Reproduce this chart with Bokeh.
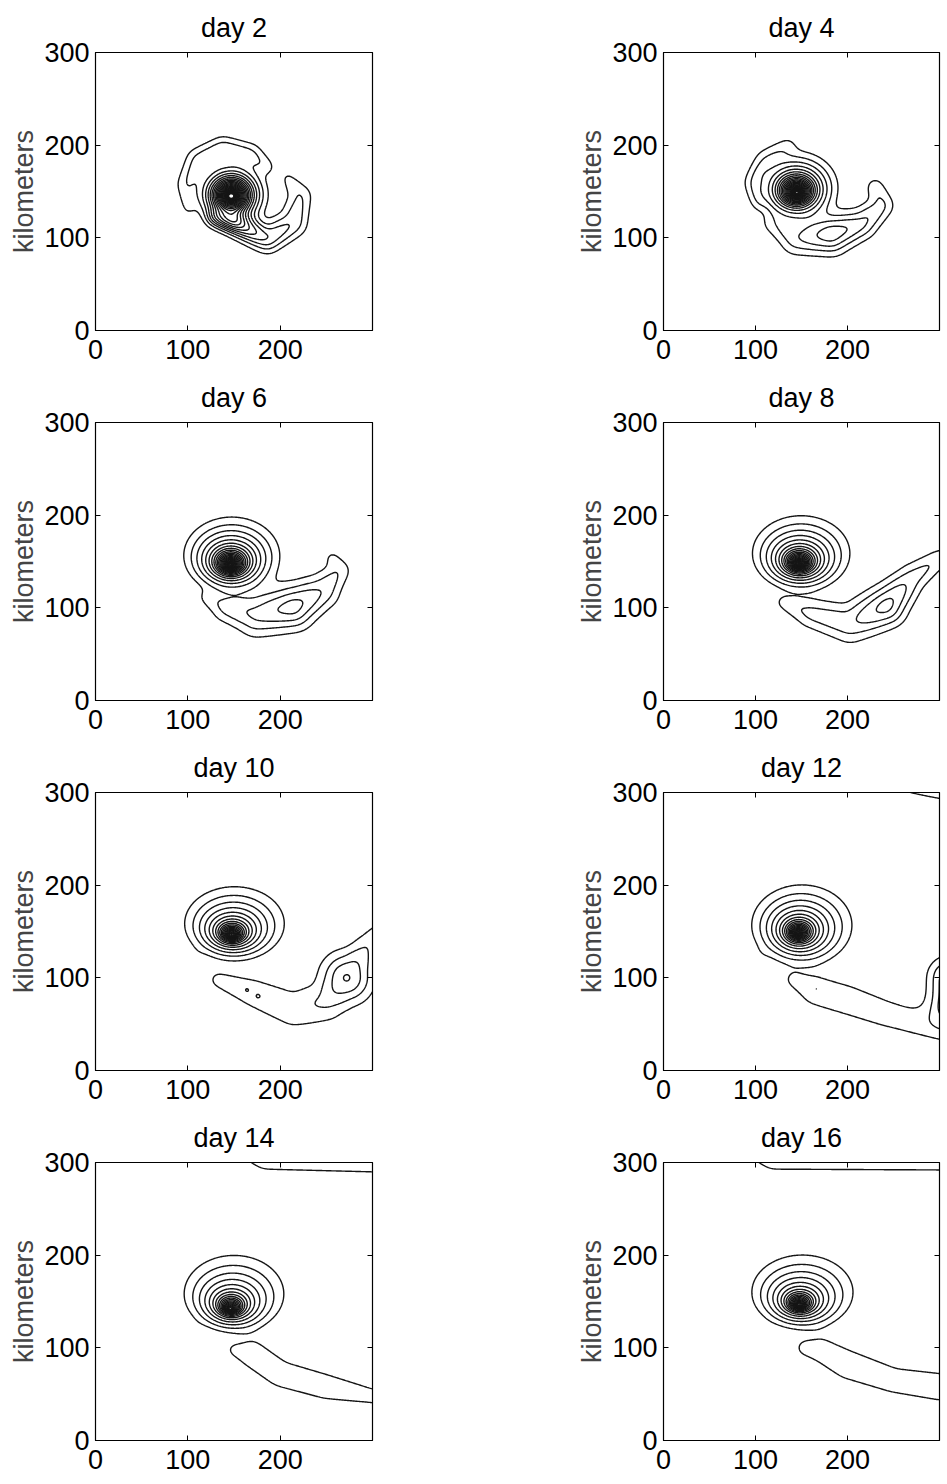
import numpy as np
from bokeh.plotting import figure
from bokeh.layouts import column, row
from bokeh.models import LinearAxis, FixedTicker, Range1d, CustomJSTickFormatter
from bokeh.embed import file_html
from bokeh.resources import INLINE

# ---------------------------------------------------------------- data
DAYS = [2, 4, 6, 8, 10, 12, 14, 16]

# vortex centre (km)
VORTEX_X = [147, 145, 146, 147, 147, 146, 146, 147]
VORTEX_Y = [145, 149, 146, 147, 146, 148, 142, 146]
# half-width of the outermost closed ring of the vortex (km)
RING1_RADIUS = [40, 46, 52, 53, 54, 54.5, 54, 55]
# contour levels per e-fold of radius inside the vortex
RING_DENSITY = [8.0, 7.0, 6.5, 6.0, 5.5, 5.5, 5.2, 5.2]
# extra levels packed into the core, and the radius they occupy (km)
CORE_BOOST = [6, 5, 4, 4, 3, 3, 3, 3]
CORE_BOOST_RADIUS = [16, 14, 12, 11, 10, 10, 10, 10]
# drift of the ring centres per km of radius, and ring aspect (y/x)
RING_SHIFT_X = [0.0, -0.03, 0.03, 0.05, 0.065, 0.08, 0.074, 0.073]
RING_SHIFT_Y = [0.05, 0.12, 0.2, 0.22, 0.23, 0.16, 0.30, 0.255]
RING_ASPECT = [0.92, 0.85, 0.80, 0.77, 0.74, 0.80, 0.77, 0.73]
# radius of the flat top of the vortex (km)
CORE_RADIUS = [2.0, 2.0, 2.2, 2.6, 2.6, 2.6, 2.4, 2.4]

# filaments shed by the vortex: vertices (x km, y km, amplitude, half-width km)
ARMS_DAY2 = [
    [(100, 130, 1.3, 7), (98, 158, 2.1, 10), (111, 184, 2.7, 12), (138, 196, 3.1, 12),
     (168, 190, 2.7, 11), (186, 177, 1.7, 8)],
    [(207, 166, 1.3, 8), (222, 145, 2.3, 12), (214, 116, 3.1, 14), (186, 99, 4.3, 13),
     (150, 117, 8.0, 10), (130, 122, 4.5, 8)],
]
ARMS_DAY4 = [
    [(118, 115, 1.7, 10), (145, 100, 3.0, 17), (182, 104, 5.0, 19), (215, 115, 3.6, 15),
     (238, 135, 2.5, 12), (230, 155, 1.9, 10)],
    [(103, 138, 1.4, 7), (97, 160, 1.7, 9), (110, 185, 1.7, 10), (135, 200, 1.4, 9)],
]
ARMS_DAY6 = [
    [(119, 111, 1.5, 8), (142, 100, 2.6, 15), (175, 93, 3.4, 22), (214, 101, 4.7, 22),
     (245, 118, 3.1, 18), (264, 140, 2.1, 12), (256, 154, 1.5, 9)],
]
ARMS_DAY8 = [
    [(129, 106, 1.6, 8), (160, 94, 2.5, 15), (203, 83, 2.8, 20), (242, 102, 4.7, 20),
     (270, 132, 2.7, 15), (298, 152, 2.0, 11), (320, 158, 1.7, 10)],
]
ARMS_DAY10 = [
    [(132, 98, 1.6, 10), (170, 84, 1.85, 17), (215, 66, 1.65, 24), (250, 75, 2.3, 22),
     (272, 100, 4.3, 26), (292, 130, 2.2, 16), (305, 150, 1.6, 10)],
    [(108, 125, 0.5, 7)],
]
ARMS_DAY12 = [
    [(140, 98, 1.45, 10), (165, 86, 1.85, 18), (200, 76, 1.65, 21), (240, 62, 1.55, 20),
     (275, 52, 1.55, 18), (310, 44, 1.55, 16)],
    [(310, 72, 4.0, 20), (310, 100, 4.0, 20)],
    [(305, 153, 1.25, 14)],
    [(235, 313, 1.0, 25), (330, 306, 1.6, 25)],
    [(106, 126, 0.5, 7)],
]
ARMS_DAY14 = [
    [(149, 98, 1.6, 8), (170, 93, 1.65, 19), (200, 72, 1.65, 19), (250, 58, 1.65, 18),
     (300, 48, 1.7, 10), (330, 44, 1.7, 10)],
    [(160, 312, 1.0, 20), (185, 309, 1.9, 20), (330, 306, 2.0, 20)],
    [(107, 121, 0.5, 7)],
]
ARMS_DAY16 = [
    [(153, 100, 1.7, 10), (172, 97, 1.65, 17), (200, 82, 1.65, 21), (250, 65, 1.65, 18),
     (300, 58, 1.65, 20), (330, 56, 1.65, 20)],
    [(95, 312, 1.0, 20), (120, 309, 1.9, 20), (330, 308, 1.9, 20)],
    [(110, 118, 0.5, 7)],
]
ARMS = [ARMS_DAY2, ARMS_DAY4, ARMS_DAY6, ARMS_DAY8,
        ARMS_DAY10, ARMS_DAY12, ARMS_DAY14, ARMS_DAY16]

# small isolated patches on top of the filaments: (x km, y km, amplitude, radius km)
SPOTS = [[], [], [], [],
         [(164, 87, 0.38, 4), (176, 80, 0.38, 4)],
         [(166, 88, 0.3, 3)],
         [], []]

LEVELS = list(range(1, 27))
X_TICKS = [0, 100, 200]
Y_TICKS = [0, 100, 200, 300]

# ---------------------------------------------------------------- field
PAD = 60
GX_EXT = np.arange(-PAD, 300 + PAD + 1, 1.0)
GY_EXT = np.arange(-PAD, 300 + PAD + 1, 1.0)
X, Y = np.meshgrid(GX_EXT, GY_EXT)
INSIDE = slice(PAD, PAD + 301)
GX = GX_EXT[INSIDE]
GY = GY_EXT[INSIDE]
SMOOTH_KM = 4.5
STEEP = 10.0


def vortex_field(i):
    e = RING_ASPECT[i]
    u = X - VORTEX_X[i]
    v = (Y - VORTEX_Y[i]) / e
    s1 = RING_SHIFT_X[i]
    s2 = RING_SHIFT_Y[i] / e
    s_sq = s1 * s1 + s2 * s2
    b = s1 * u + s2 * v
    r = (-b + np.sqrt(b * b + (1 - s_sq) * (u * u + v * v))) / (1 - s_sq)
    r = np.sqrt(r * r + CORE_RADIUS[i] ** 2)
    k = RING_DENSITY[i]
    big_r = RING1_RADIUS[i] * (np.exp(STEEP / k) - 1) ** (1 / STEEP)
    outer = k / STEEP * np.log1p((big_r / r) ** STEEP)
    core = CORE_BOOST[i] * np.exp(-(r / CORE_BOOST_RADIUS[i]) ** 2)
    return outer + core


def gauss(x0, y0, a0, w0):
    return a0 * np.exp(-((X - x0) ** 2 + (Y - y0) ** 2) / w0 ** 2)


def arm_field(arm):
    if len(arm) == 1:
        return gauss(*arm[0])
    out = np.zeros_like(X)
    for (x0, y0, a0, w0), (x1, y1, a1, w1) in zip(arm[:-1], arm[1:]):
        ex, ey = x1 - x0, y1 - y0
        t = np.clip(((X - x0) * ex + (Y - y0) * ey) / (ex * ex + ey * ey), 0, 1)
        d2 = (X - x0 - t * ex) ** 2 + (Y - y0 - t * ey) ** 2
        a = a0 + t * (a1 - a0)
        w = w0 + t * (w1 - w0)
        out = np.maximum(out, a * np.exp(-d2 / w ** 2))
    return out


def smooth(z, s):
    n = int(3 * s)
    k = np.exp(-0.5 * (np.arange(-n, n + 1) / s) ** 2)
    k /= k.sum()
    z = np.apply_along_axis(lambda m: np.convolve(m, k, mode="same"), 0, z)
    z = np.apply_along_axis(lambda m: np.convolve(m, k, mode="same"), 1, z)
    return z


def day_field(i):
    arms = np.zeros_like(X)
    for arm in ARMS[i]:
        arms = arms + arm_field(arm)
    z = vortex_field(i) + smooth(arms, SMOOTH_KM)
    for spot in SPOTS[i]:
        z = z + gauss(*spot)
    return z[INSIDE, INSIDE]


# ---------------------------------------------------------------- panels
FONT = "Liberation Sans"
FS = "27px"
BLANK = CustomJSTickFormatter(code="return ''")


def mirror_axis():
    return LinearAxis(ticker=FixedTicker(ticks=[100, 200]), formatter=BLANK,
                      major_tick_in=5, major_tick_out=0, minor_tick_line_color=None,
                      axis_line_color="black", major_label_standoff=0,
                      major_label_text_font_size="1px")


def panel(i, left):
    p = figure(
        frame_width=277 if left else 276, frame_height=278,
        x_range=Range1d(0, 300), y_range=Range1d(0, 300),
        output_backend="svg", toolbar_location=None,
        min_border_left=95 if left else 191,
        min_border_right=100 if left else 8,
        min_border_top=52, min_border_bottom=40,
        title=f"day {DAYS[i]}",
    )
    p.title.align = "center"
    p.title.text_font = FONT
    p.title.text_font_size = FS
    p.title.text_font_style = "normal"
    p.title.text_color = "black"
    p.title.standoff = 19
    p.grid.visible = False
    p.outline_line_color = "black"
    p.outline_line_width = 1.2
    p.background_fill_color = "white"
    p.border_fill_color = "white"

    p.xaxis.ticker = FixedTicker(ticks=X_TICKS)
    p.yaxis.ticker = FixedTicker(ticks=Y_TICKS)
    p.yaxis.axis_label = "kilometers"
    p.yaxis.axis_label_text_font = FONT
    p.yaxis.axis_label_text_font_size = FS
    p.yaxis.axis_label_text_font_style = "normal"
    p.yaxis.axis_label_standoff = 2
    for ax in (p.xaxis, p.yaxis):
        ax.major_label_text_font = FONT
        ax.major_label_text_font_size = FS
        ax.major_label_text_color = "black"
        ax.major_tick_in = 5
        ax.major_tick_out = 0
        ax.minor_tick_line_color = None
        ax.axis_line_color = "black"
    p.xaxis.major_label_standoff = 9
    p.yaxis.major_label_standoff = 6

    p.add_layout(mirror_axis(), "above")
    p.add_layout(mirror_axis(), "right")

    p.contour(GX, GY, day_field(i), LEVELS, line_color="#151515", line_width=1.4)
    return p


rows = []
for k in range(4):
    rows.append(row(panel(2 * k, True), panel(2 * k + 1, False)))
layout = column(*rows)

html = file_html(layout, INLINE)
html = html.replace("<body>", '<body style="margin:0">', 1)
open("out.html", "w").write(html)
